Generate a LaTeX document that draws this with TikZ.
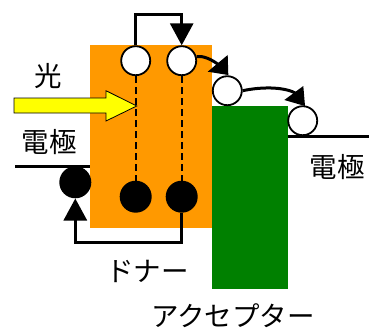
\documentclass[tikz,border=0pt]{standalone}
\usepackage{fontspec}
\newfontfamily\jpfont{Noto Sans CJK JP}
\usetikzlibrary{arrows.meta}
\definecolor{dorange}{HTML}{FF9900}
\definecolor{dgreen}{HTML}{008000}
\definecolor{dyellow}{HTML}{FFFF00}
\begin{document}
\begin{tikzpicture}[x=1pt,y=-1pt,
  wc/.style={circle,draw=black,line width=1.8pt,fill=white,minimum size=29pt,inner sep=0pt},
  bc/.style={circle,fill=black,minimum size=32pt,inner sep=0pt},
  conn/.style={line width=3pt,line join=miter},
  bigtip/.style={-{Triangle[length=22pt,width=23pt]}},
  headfill/.style={fill=black},
  elec/.style={line width=3pt},
  dashline/.style={line width=2.2pt,dash pattern=on 7pt off 4pt},
  lbl/.style={font=\jpfont\fontsize{27.5}{30}\selectfont,inner sep=0pt}]
\useasboundingbox (0,0) rectangle (369,329);
% blocks
\node[fill=dorange,minimum width=122pt,minimum height=183pt,inner sep=0pt,anchor=north west] (don) at (90,45) {};
\node[fill=dgreen,minimum width=76pt,minimum height=183pt,inner sep=0pt,anchor=north west] (acc) at (212,106) {};
% electrodes
\coordinate (le0) at (15,166.7);
\coordinate (le1) at (90,166.7);
\coordinate (re0) at (288,136.3);
\coordinate (re1) at (369,136.3);
\draw[elec] (le0) -- (le1);
\draw[elec] (re0) -- (re1);
% circles
\node[wc] (e1) at (135.7,60.7) {};
\node[wc] (e2) at (181.7,60.7) {};
\node[wc] (e3) at (227.3,90.7) {};
\node[wc] (e4) at (302.7,120.7) {};
\node[bc] (h0) at (75.3,182.3) {};
\node[bc] (h1) at (135.7,196.7) {};
\node[bc] (h2) at (181.7,196.7) {};
% dashed
\draw[dashline] (e1.south) -- (h1.north);
\draw[dashline] (e2.south) -- (h2.north);
% top connector
\coordinate (tc) at (158,15);
\draw[conn,bigtip] (e1.north) |- (tc) -| (e2.north);
% bottom connector
\coordinate (bc) at (128,242.7);
\draw[conn,bigtip] (h2.south) |- (bc) -| (h0.south);
% curved arrows with heads
\coordinate (a1tip) at (207.7,71.7);
\coordinate (a1top) at (227.7,55);
\coordinate (a1bot) at (228.3,75);
\coordinate (a1end) at (219,65);
\draw[conn] (e2.15) .. controls (203,55.5) and (211,59) .. (a1end);
\fill[headfill] (a1tip) -- (a1top) -- (a1bot) -- cycle;
\coordinate (a2tip) at (284.3,100);
\coordinate (a2top) at (303.3,86);
\coordinate (a2bot) at (305,106);
\coordinate (a2end) at (297,94);
\draw[conn] (e3.east) .. controls (265,86) and (287,87.5) .. (a2end);
\fill[headfill] (a2tip) -- (a2top) -- (a2bot) -- cycle;
% light arrow
\draw[fill=dyellow,line width=0.8pt] (14,98) -- (106,98) -- (106,90.7) -- (136.7,106) -- (106,121) -- (106,113) -- (14,113) -- cycle;
% labels
\node[lbl] (hikari) at (48.5,76) {光};
\node[lbl] (el1) at (49,142) {電極};
\node[lbl] (el2) at (337,167) {電極};
\node[lbl] (dn) at (147.5,271.5) {ドナー};
\node[lbl] (ac) at (233,316) {アクセプター};
\end{tikzpicture}
\end{document}
